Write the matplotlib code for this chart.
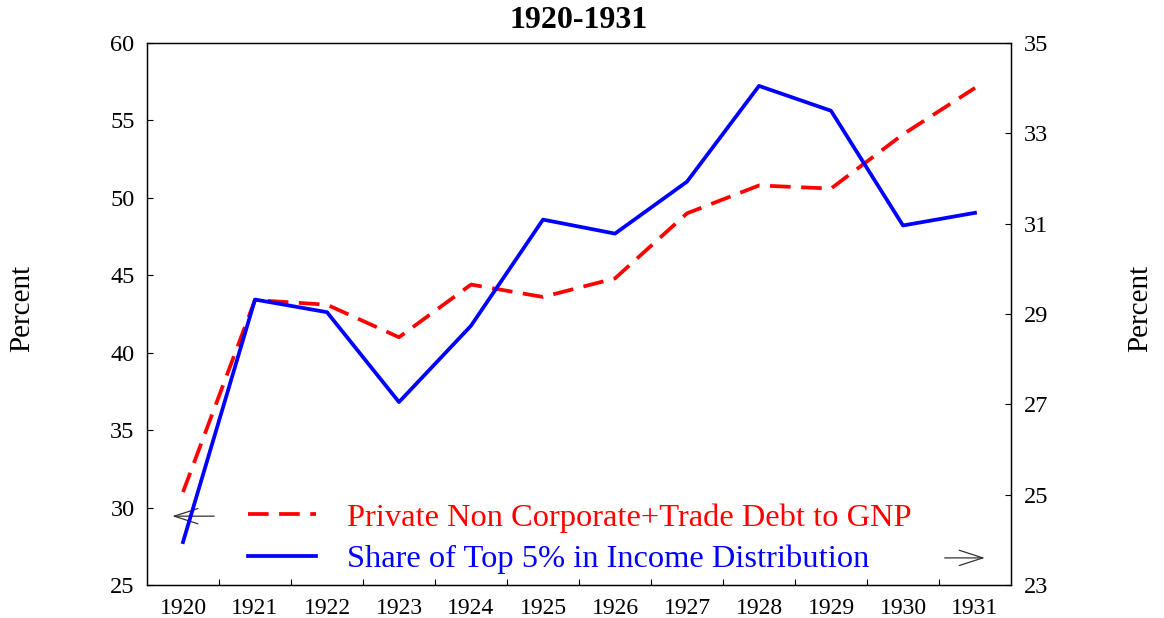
import numpy as np
import matplotlib
matplotlib.use("Agg")
import matplotlib.pyplot as plt

plt.rcParams['font.family'] = ['Liberation Serif', 'DejaVu Serif']

# data
years = ['1920', '1921', '1922', '1923', '1924', '1925',
         '1926', '1927', '1928', '1929', '1930', '1931']
debt_to_gnp = [31.0, 43.4, 43.1, 41.0, 44.4, 43.6, 44.8, 49.0, 50.8, 50.6, 54.1, 57.1]
top5_share = [23.95, 29.32, 29.04, 27.05, 28.74, 31.09, 30.78, 31.93, 34.05, 33.50, 30.96, 31.24]
left_ticks = [25, 30, 35, 40, 45, 50, 55, 60]
right_ticks = [23, 25, 27, 29, 31, 33, 35]

W, H = 1164, 618
fig = plt.figure(figsize=(W / 100, H / 100), dpi=100)
ax = fig.add_axes([147 / W, 1 - 585 / H, 864 / W, 542 / H])
ax2 = ax.twinx()

x = np.arange(len(years))
l1, = ax.plot(x, debt_to_gnp, color='#ff0000', lw=2.7, dashes=(5.5, 2.8),
              label='Private Non Corporate+Trade Debt to GNP')
l2, = ax2.plot(x, top5_share, color='#0000ff', lw=2.7,
               label='Share of Top 5% in Income Distribution')

ax.set_xlim(-0.5, len(years) - 0.5)
ax.set_ylim(25, 60)
ax2.set_ylim(23, 35)
ax.set_yticks(left_ticks)
ax2.set_yticks(right_ticks)

# year labels in the middle, small tick marks between the years
ax.set_xticks(x)
ax.set_xticklabels(years)
ax.set_xticks(np.arange(0.5, len(years) - 1, 1.0), minor=True)
ax.tick_params(axis='x', which='major', length=0, pad=9, labelsize=17)
ax.tick_params(axis='x', which='minor', direction='in', length=4, width=0.8)
ax.tick_params(axis='y', direction='in', length=4, width=0.8, pad=9, labelsize=17.5)
ax2.tick_params(axis='y', direction='in', length=4, width=0.8, pad=9, labelsize=17.5)
for a in (ax, ax2):
    for s in a.spines.values():
        s.set_linewidth(0.9)

# arrows showing which axis each series belongs to
arrow = dict(arrowstyle='->,head_length=1.7,head_width=0.55', color='#333333', lw=0.9)
ax.annotate('', xy=(0.026, 0.127), xytext=(0.081, 0.127),
            xycoords='axes fraction', arrowprops=arrow)
ax.annotate('', xy=(0.973, 0.050), xytext=(0.920, 0.050),
            xycoords='axes fraction', arrowprops=arrow)

leg = ax2.legend([l1, l2], [l1.get_label(), l2.get_label()],
                 loc='upper left', bbox_to_anchor=(248 / W, 1 - 503 / H),
                 bbox_transform=fig.transFigure, frameon=False, fontsize=23.4,
                 handlelength=2.1, handletextpad=0.95, labelspacing=0.36,
                 borderpad=0, borderaxespad=0)
for t, c in zip(leg.get_texts(), ['#ff0000', '#0000ff']):
    t.set_color(c)

fig.text(579 / W, 1 - 20 / H, '1920-1931', ha='center', va='center',
         fontsize=23, fontweight='bold')
fig.text(22 / W, 1 - 308 / H, 'Percent', rotation=90, ha='center', va='center', fontsize=21)
fig.text(1140 / W, 1 - 308 / H, 'Percent', rotation=90, ha='center', va='center', fontsize=21)

fig.savefig('out.png', dpi=100)
